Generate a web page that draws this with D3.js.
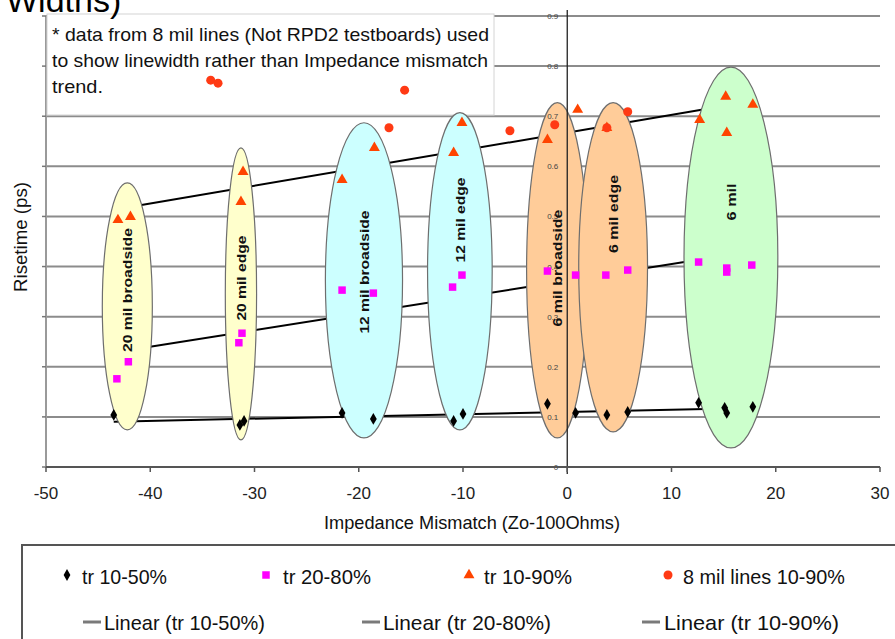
<!DOCTYPE html>
<html>
<head>
<meta charset="utf-8">
<script src="https://cdn.jsdelivr.net/npm/d3@7"></script>
<style>
  body { margin: 0; background: #fff; }
  svg { display: block; }
  text { font-family: "Liberation Sans Narrow", "Arial Narrow", "Liberation Sans", Arial, sans-serif; }
</style>
</head>
<body>
<svg id="chart" width="895" height="639"></svg>
<script>
// ---- data -------------------------------------------------------------
const mismatchTicks = [-50, -40, -30, -20, -10, 0, 10, 20, 30];
const mismatchTickLabels = ["-50", "-40", "-30", "-20", "-10", "0", "10", "20", "30"];
const risetimeTicks = [0, 0.1, 0.2, 0.3, 0.4, 0.5, 0.6, 0.7, 0.8, 0.9];
const risetimeTickLabels = ["0", "0.1", "0.2", "0.3", "0.4", "0.5", "0.6", "0.7", "0.8", "0.9"];

// [impedance mismatch (Zo-100 ohms), risetime]
const tr1050 = [
  [-43.5, 0.104], [-31.4, 0.084], [-31.0, 0.092], [-21.6, 0.108], [-18.6, 0.096],
  [-10.9, 0.092], [-10.0, 0.106], [-1.9, 0.126], [0.8, 0.108], [3.8, 0.104],
  [5.8, 0.110], [12.6, 0.128], [15.1, 0.118], [15.3, 0.108], [17.8, 0.120]
];
const tr2080 = [
  [-43.2, 0.176], [-42.1, 0.210], [-31.2, 0.267], [-31.5, 0.248], [-21.6, 0.353],
  [-18.6, 0.347], [-11.0, 0.359], [-10.1, 0.383], [-1.9, 0.391], [0.8, 0.383],
  [3.7, 0.383], [5.8, 0.393], [12.6, 0.409], [15.3, 0.397], [15.3, 0.389], [17.7, 0.403]
];
const tr1090 = [
  [-43.1, 0.493], [-41.9, 0.499], [-31.3, 0.529], [-31.1, 0.589], [-21.6, 0.573],
  [-18.5, 0.637], [-10.9, 0.627], [-10.1, 0.687], [-1.9, 0.653], [1.0, 0.713],
  [3.8, 0.677], [12.7, 0.693], [15.2, 0.739], [15.3, 0.667], [17.8, 0.723]
];
const mil8Lines1090 = [
  [-34.2, 0.772], [-33.5, 0.766], [-15.6, 0.752], [-17.1, 0.677], [-5.5, 0.671],
  [-1.2, 0.683], [3.8, 0.677], [5.8, 0.709]
];

// line-geometry groups, bounds in axis units
const groupNames = ["20 mil broadside", "20 mil edge", "12 mil broadside", "12 mil edge",
                    "6 mil broadside", "6 mil edge", "6 mil"];
const groupKinds = ["20", "20", "12", "12", "6p", "6p", "6"];
const groupXMin = [-44.6, -32.8, -23.2, -13.4, -3.9, 1.1, 11.2];
const groupXMax = [-39.8, -29.8, -15.8, -7.2, 2.0, 7.7, 20.2];
const groupYMin = [0.074, 0.054, 0.058, 0.074, 0.058, 0.070, 0.038];
const groupYMax = [0.567, 0.637, 0.687, 0.707, 0.727, 0.727, 0.798];
const groupLabelY = [0.353, 0.377, 0.389, 0.493, 0.397, 0.505, 0.529];

const noteLines = [
  "* data from 8 mil lines (Not RPD2 testboards) used",
  "to show linewidth rather than Impedance mismatch",
  "trend."
];

// ---- layout -------------------------------------------------------------
const svg = d3.select("#chart");
const x = d3.scaleLinear().domain([-50, 30]).range([46, 880]);
const y = d3.scaleLinear().domain([0, 0.9]).range([467, 16]);

const fills = { "20": "#ffffcc", "12": "#ccffff", "6p": "#ffcc99", "6": "#ccffcc" };
const colors = { d: "#000000", s: "#ff00ff", t: "#ff4400", c: "#ff3a14" };

// gridlines
svg.append("g").selectAll("line").data(risetimeTicks.slice(1)).join("line")
  .attr("x1", x(-50)).attr("x2", x(30))
  .attr("y1", d => y(d)).attr("y2", d => y(d))
  .attr("stroke", "#8c8c8c").attr("stroke-width", 2);

// left axis line with ticks
svg.append("line").attr("x1", x(-50)).attr("x2", x(-50)).attr("y1", y(0.9)).attr("y2", y(0))
  .attr("stroke", "#9a9a9a").attr("stroke-width", 2);
svg.append("g").selectAll("line").data(risetimeTicks).join("line")
  .attr("x1", x(-50) - 4).attr("x2", x(-50))
  .attr("y1", d => y(d)).attr("y2", d => y(d))
  .attr("stroke", "#777").attr("stroke-width", 1.5);

// least squares trend lines over each series' x range
function trend(pts) {
  const mx = d3.mean(pts, p => p[0]), my = d3.mean(pts, p => p[1]);
  const sxy = d3.sum(pts, p => (p[0] - mx) * (p[1] - my));
  const sxx = d3.sum(pts, p => (p[0] - mx) ** 2);
  const b = sxy / sxx, a = my - b * mx;
  const [x0, x1] = d3.extent(pts, p => p[0]);
  return [[x0, a + b * x0], [x1, a + b * x1]];
}
const line = d3.line().x(d => x(d[0])).y(d => y(d[1]));
[tr1050, tr2080, tr1090].forEach(s => {
  svg.append("path").attr("d", line(trend(s)))
    .attr("fill", "none").attr("stroke", "#000").attr("stroke-width", 2);
});

// note box
const note = svg.append("g");
note.append("rect").attr("x", 47).attr("y", 14).attr("width", 447).attr("height", 101)
  .attr("fill", "#fff").attr("stroke", "#d4d4d4").attr("stroke-width", 1);
const noteLen = [437, 436, 51];
noteLines.forEach((t, i) => {
  note.append("text").attr("x", 52).attr("y", 41 + i * 26)
    .attr("font-size", 19).attr("fill", "#111")
    .attr("textLength", noteLen[i]).attr("lengthAdjust", "spacingAndGlyphs").text(t);
});

// page title (partly above the frame)
svg.append("text").attr("x", 6).attr("y", 12)
  .style("font-family", "'Liberation Sans', Arial, sans-serif")
  .attr("font-size", 34).attr("fill", "#000").text("Widths)");

// group ellipses
const groups = groupNames.map((n, i) => ({
  name: n, kind: groupKinds[i],
  cx: (x(groupXMin[i]) + x(groupXMax[i])) / 2,
  cy: (y(groupYMin[i]) + y(groupYMax[i])) / 2,
  rx: (x(groupXMax[i]) - x(groupXMin[i])) / 2,
  ry: (y(groupYMin[i]) - y(groupYMax[i])) / 2,
  ly: y(groupLabelY[i])
}));
svg.append("g").selectAll("ellipse").data(groups).join("ellipse")
  .attr("cx", d => d.cx).attr("cy", d => d.cy).attr("rx", d => d.rx).attr("ry", d => d.ry)
  .attr("fill", d => fills[d.kind]).attr("stroke", "#6e6e6e").attr("stroke-width", 1.2);

// zero line of the mismatch axis, with its small value labels
svg.append("line").attr("x1", x(0)).attr("x2", x(0)).attr("y1", y(0.9) - 6).attr("y2", y(0) + 7)
  .attr("stroke", "#222").attr("stroke-width", 1.3);
svg.append("g").selectAll("text").data(risetimeTicks).join("text")
  .attr("x", x(0) - 9).attr("y", d => y(d) + 3)
  .attr("text-anchor", "end").attr("font-size", 8).attr("fill", "#444")
  .text((d, i) => risetimeTickLabels[i]);

// group labels
const labelLen = [124, 85, 123, 85, 117, 78, 37];
svg.append("g").selectAll("text").data(groups).join("text")
  .attr("transform", d => `translate(${d.cx + 5},${d.ly}) rotate(-90)`)
  .attr("text-anchor", "middle").attr("font-size", 13).attr("font-weight", "bold")
  .attr("fill", "#111")
  .attr("textLength", (d, i) => labelLen[i]).attr("lengthAdjust", "spacingAndGlyphs")
  .text(d => d.name);

// bottom axis
svg.append("line").attr("x1", x(-50)).attr("x2", x(30)).attr("y1", y(0)).attr("y2", y(0))
  .attr("stroke", "#555").attr("stroke-width", 2);
svg.append("g").selectAll("line").data(mismatchTicks).join("line")
  .attr("x1", d => x(d)).attr("x2", d => x(d)).attr("y1", y(0)).attr("y2", y(0) + 5)
  .attr("stroke", "#555").attr("stroke-width", 1.5);
svg.append("g").selectAll("text").data(mismatchTicks).join("text")
  .attr("x", d => x(d)).attr("y", 499).attr("text-anchor", "middle")
  .attr("font-size", 17).attr("fill", "#222")
  .text((d, i) => mismatchTickLabels[i]);

// axis titles
svg.append("text").attr("x", 472).attr("y", 529).attr("text-anchor", "middle")
  .attr("font-size", 19).attr("fill", "#111")
  .attr("textLength", 296).attr("lengthAdjust", "spacingAndGlyphs")
  .text("Impedance Mismatch (Zo-100Ohms)");
svg.append("text").attr("transform", "translate(27,237) rotate(-90)")
  .attr("text-anchor", "middle").attr("font-size", 19).attr("fill", "#111")
  .attr("textLength", 110).attr("lengthAdjust", "spacingAndGlyphs")
  .text("Risetime (ps)");

// markers
const sym = {
  d: d3.symbol(d3.symbolDiamond, 40),
  s: d3.symbol(d3.symbolSquare, 56),
  t: d3.symbol(d3.symbolTriangle, 52),
  c: d3.symbol(d3.symbolCircle, 64)
};
function drawSeries(pts, k) {
  svg.append("g").selectAll("path").data(pts).join("path")
    .attr("transform", d => `translate(${x(d[0])},${y(d[1])})`)
    .attr("d", sym[k]()).attr("fill", colors[k]);
}
drawSeries(tr1050, "d");
drawSeries(tr2080, "s");
drawSeries(tr1090, "t");
drawSeries(mil8Lines1090, "c");

// legend
const lg = svg.append("g");
lg.append("rect").attr("x", 22).attr("y", 545).attr("width", 900).attr("height", 120)
  .attr("fill", "#fff").attr("stroke", "#555").attr("stroke-width", 2);
const legendRow1 = [
  { k: "d", sx: 67, tx: 82, len: 85, t: "tr 10-50%" },
  { k: "s", sx: 266, tx: 283, len: 88, t: "tr 20-80%" },
  { k: "t", sx: 469, tx: 484, len: 88, t: "tr 10-90%" },
  { k: "c", sx: 668, tx: 683, len: 162, t: "8 mil lines 10-90%" }
];
legendRow1.forEach(r => {
  lg.append("path").attr("transform", `translate(${r.sx},575)`)
    .attr("d", sym[r.k]()).attr("fill", colors[r.k]);
  lg.append("text").attr("x", r.tx).attr("y", 584).attr("font-size", 21).attr("fill", "#111")
    .attr("textLength", r.len).attr("lengthAdjust", "spacingAndGlyphs").text(r.t);
});
const legendRow2 = [
  { lx: 83, tx: 104, len: 161, t: "Linear (tr 10-50%)" },
  { lx: 362, tx: 383, len: 168, t: "Linear (tr 20-80%)" },
  { lx: 642, tx: 664, len: 175, t: "Linear (tr 10-90%)" }
];
legendRow2.forEach(r => {
  lg.append("line").attr("x1", r.lx).attr("x2", r.lx + 18).attr("y1", 622).attr("y2", 622)
    .attr("stroke", "#7a7a7a").attr("stroke-width", 3);
  lg.append("text").attr("x", r.tx).attr("y", 630).attr("font-size", 21).attr("fill", "#111")
    .attr("textLength", r.len).attr("lengthAdjust", "spacingAndGlyphs").text(r.t);
});
</script>
</body>
</html>
